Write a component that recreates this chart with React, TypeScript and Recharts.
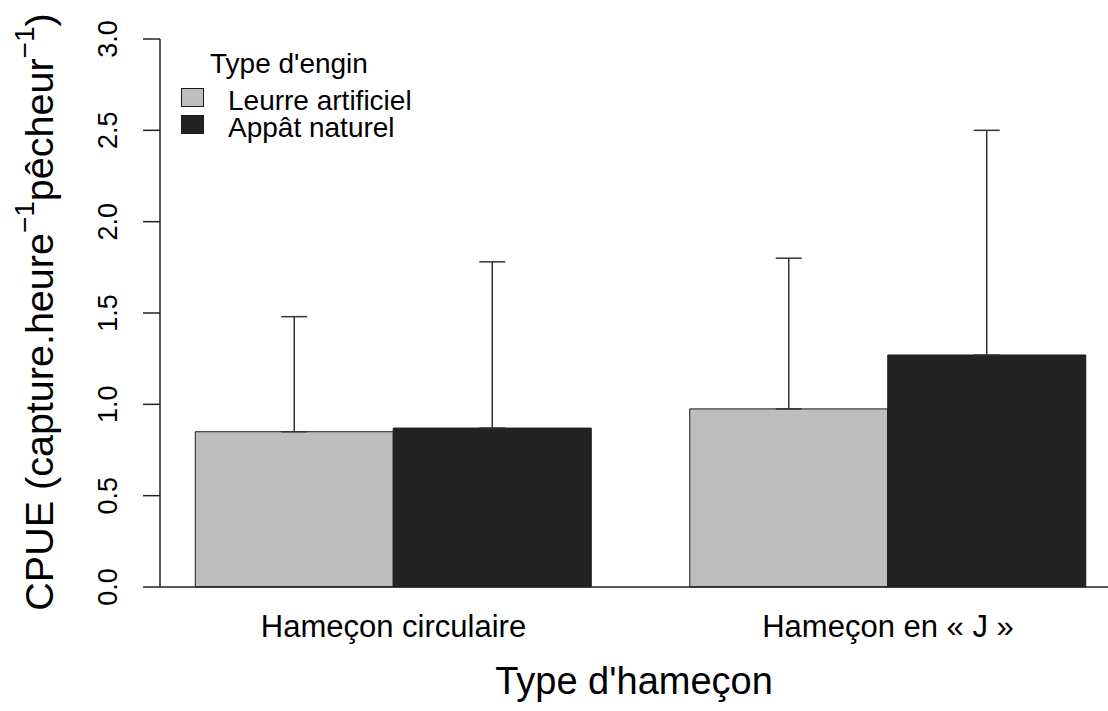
import React from 'react';
import { BarChart, Bar, XAxis, YAxis, ErrorBar, Legend, Label } from 'recharts';

const categories = ['Hameçon circulaire', 'Hameçon en « J »'];
const leurreValues = [0.85, 0.975];
const leurreErrors = [0.63, 0.825];
const appatValues = [0.87, 1.27];
const appatErrors = [0.91, 1.23];
const yTicks = [0, 0.5, 1, 1.5, 2, 2.5, 3];
const seriesNames = ['Leurre artificiel', 'Appât naturel'];
const seriesColors = ['#bebebe', '#222222'];
const legendTitle = "Type d'engin";
const xTitle = "Type d'hameçon";

const data = categories.map((c, i) => ({
  category: c,
  leurre: leurreValues[i],
  leurreErr: [0, leurreErrors[i]],
  appat: appatValues[i],
  appatErr: [0, appatErrors[i]],
}));

const FONT = "'Liberation Sans', Arial, Helvetica, sans-serif";

const YTick = (props: any) => {
  const { x, y, payload } = props;
  const tx = x - 26;
  return (
    <text
      x={tx}
      y={y}
      transform={`rotate(-90, ${tx}, ${y})`}
      textAnchor="middle"
      fontSize={27}
      fontFamily={FONT}
      fill="#000"
    >
      {Number(payload.value).toFixed(1)}
    </text>
  );
};

const XTick = (props: any) => {
  const { x, y, payload } = props;
  return (
    <text x={x} y={y + 50} textAnchor="middle" fontSize={31} fontFamily={FONT} fill="#000">
      {payload.value}
    </text>
  );
};

const YTitle = (props: any) => {
  const vb = props.viewBox || { x: 0, y: 39, width: 160, height: 548 };
  const cx = vb.x + 53;
  const cy = vb.y + vb.height / 2 - 1;
  return (
    <text
      x={cx}
      y={cy}
      transform={`rotate(-90, ${cx}, ${cy})`}
      textAnchor="middle"
      fontSize={39.5}
      fontFamily={FONT}
      fill="#000"
    >
      CPUE (capture.heure
      <tspan fontSize={28} dy={-19}>−1</tspan>
      <tspan dy={19}>pêcheur</tspan>
      <tspan fontSize={28} dy={-19}>−1</tspan>
      <tspan dy={19}>)</tspan>
    </text>
  );
};

const XTitle = (props: any) => {
  const vb = props.viewBox || { x: 160, y: 587, width: 948, height: 124 };
  return (
    <text
      x={vb.x + vb.width / 2}
      y={vb.y + 107}
      textAnchor="middle"
      fontSize={38}
      fontFamily={FONT}
      fill="#000"
    >
      {xTitle}
    </text>
  );
};

const renderLegend = (props: any) => {
  const raw = props.payload || [];
  const payload = seriesNames
    .map((n) => raw.find((p: any) => p.value === n))
    .filter(Boolean);
  return (
    <svg width={300} height={110} style={{ display: 'block', overflow: 'visible' }}>
      <text x={35} y={28} fontSize={28} fontFamily={FONT} fill="#000">
        {legendTitle}
      </text>
      {payload.map((p: any, i: number) => (
        <g key={i}>
          <rect x={6.5} y={43.5 + i * 27} width={22} height={18} fill={p.color} stroke="#1a1a1a" strokeWidth={1} />
          <text x={53} y={65 + i * 26.5} fontSize={28} fontFamily={FONT} fill="#000">
            {p.value}
          </text>
        </g>
      ))}
    </svg>
  );
};

export default function App() {
  return (
    <div style={{ position: 'absolute', left: 0, top: 0, width: 1108, height: 711, background: '#fff' }}>
      <BarChart
        width={1108}
        height={711}
        data={data}
        margin={{ top: 39, right: 0, bottom: 0, left: 0 }}
        barGap={0}
        barSize={198}
      >
        <XAxis
          dataKey="category"
          height={124}
          padding={{ left: -13.75, right: -27.25 }}
          axisLine={{ stroke: '#222', strokeWidth: 1.5 }}
          tickLine={false}
          tickSize={0}
          tickMargin={0}
          tick={<XTick />}
          interval={0}
        >
          <Label content={<XTitle />} />
        </XAxis>
        <YAxis
          width={160}
          domain={[0, 3]}
          ticks={yTicks}
          interval={0}
          tickSize={17}
          tickMargin={0}
          axisLine={{ stroke: '#222', strokeWidth: 1.5 }}
          tickLine={{ stroke: '#222', strokeWidth: 1.5 }}
          tick={<YTick />}
        >
          <Label content={<YTitle />} />
        </YAxis>
        <Legend
          layout="horizontal"
          verticalAlign="middle"
          align="center"
          content={renderLegend}
          wrapperStyle={{ left: 175, top: 45, width: 300, height: 110 }}
        />
        <Bar
          dataKey="leurre"
          name={seriesNames[0]}
          fill={seriesColors[0]}
          stroke="#1a1a1a"
          strokeWidth={1}
          isAnimationActive={false}
        >
          <ErrorBar dataKey="leurreErr" direction="y" width={13} stroke="#333" strokeWidth={1.5} />
        </Bar>
        <Bar
          dataKey="appat"
          name={seriesNames[1]}
          fill={seriesColors[1]}
          stroke="#1a1a1a"
          strokeWidth={1}
          isAnimationActive={false}
        >
          <ErrorBar dataKey="appatErr" direction="y" width={13} stroke="#333" strokeWidth={1.5} />
        </Bar>
      </BarChart>
    </div>
  );
}
